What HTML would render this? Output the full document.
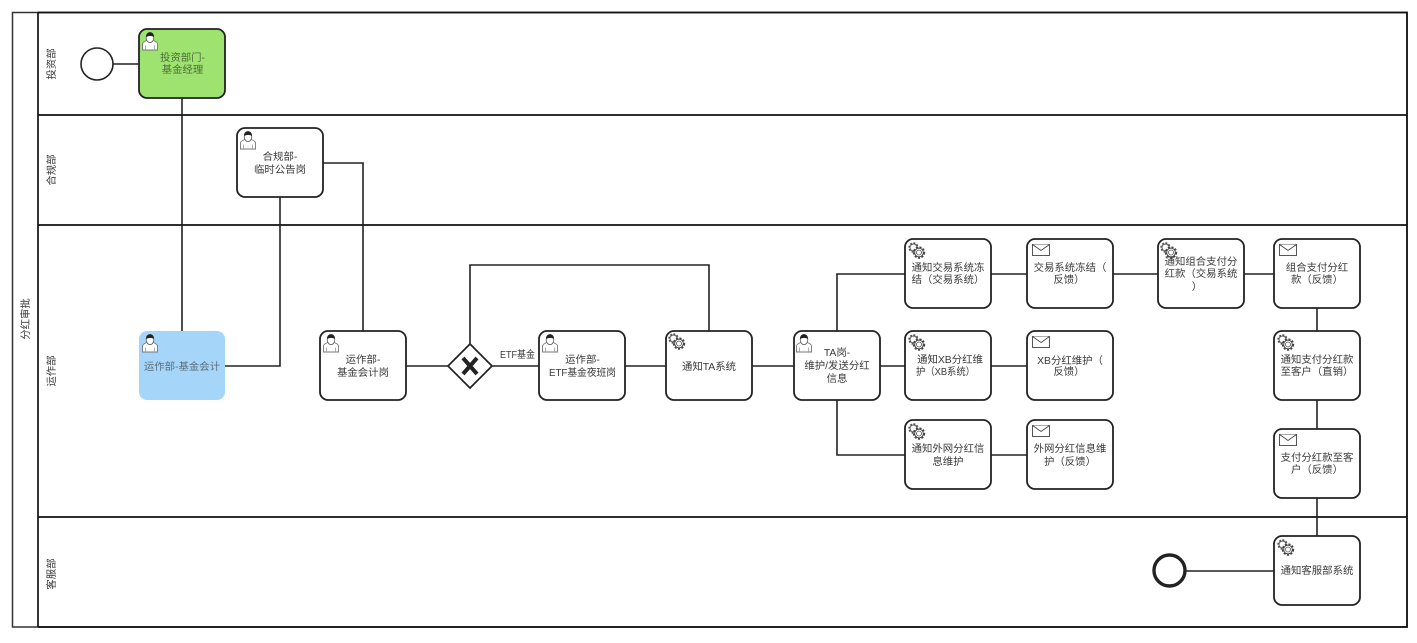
<!DOCTYPE html>
<html>
<head>
<meta charset="utf-8">
<style>
html,body{margin:0;padding:0;background:#fff;width:1417px;height:643px;overflow:hidden}
svg{display:block}
text{font-family:"Liberation Sans","Noto Sans CJK SC",sans-serif;font-size:10.4px;fill:#3a3a3a;text-anchor:middle}
.c{fill:none;stroke:#222;stroke-width:1.6}
.t{fill:#fff;stroke:#222;stroke-width:1.8}
</style>
</head>
<body>
<svg width="1417" height="643" viewBox="0 0 1417 643" xmlns="http://www.w3.org/2000/svg">
<defs>
  <g id="u">
    <path d="M.5 18V12C.5 10 3 9.500 5 8.300L11 8.300C13 9.500 15.500 10 15.500 12V18Z" fill="#fff" stroke="#777" stroke-width=".9"/>
    <path d="M3.500 18V13.500M12.500 18V13.500" stroke="#999" stroke-width=".8"/>
    <ellipse cx="8" cy="5.600" rx="3.800" ry="5" fill="#fff" stroke="#555" stroke-width=".8"/>
    <path d="M4.100 5.200C3.800 1.500 6 .3 8 .3S12.200 1.500 11.900 5.200C10.500 3.400 6 3.400 4.100 5.200Z" fill="#222"/>
  </g>
  <g id="g" fill="#fff">
    <circle cx="5.500" cy="5.500" r="4" stroke-width="2.400" stroke-dasharray="1.800 1.300" stroke="#555"/>
    <circle cx="5.500" cy="5.500" r="3.500" stroke-width=".9" stroke="#555"/>
    <circle cx="11" cy="10.500" r="5" stroke-width="2.400" stroke-dasharray="2 1.400" stroke="#444"/>
    <circle cx="11" cy="10.500" r="4.300" stroke-width=".9" stroke="#444"/>
    <circle cx="11" cy="10.500" r="2.500" stroke-width=".8" stroke="#555"/>
  </g>
  <g id="m" fill="#fff" stroke="#444" stroke-width=".9">
    <rect x=".5" y=".5" width="17" height="11"/>
    <path d="M.5 .5L9 6.500L17.500 .5"/>
  </g>
</defs>

<!-- pool -->
<rect x="12.500" y="12.500" width="1394.500" height="614.500" fill="#fff" stroke="#333" stroke-width="1.500"/>
<path d="M38 12V627M38 12.500H1407V627H38M38 115H1407M38 225H1407M38 517H1407" fill="none" stroke="#111" stroke-width="1.700"/>

<text transform="translate(29,319) rotate(-90)">分红审批</text>
<text transform="translate(55,64) rotate(-90)">投资部</text>
<text transform="translate(55,170) rotate(-90)">合规部</text>
<text transform="translate(55,371) rotate(-90)">运作部</text>
<text transform="translate(55,574) rotate(-90)">客服部</text>

<!-- connectors -->
<path class="c" d="M113 64H139M182 98V331M323 163H363V331M280 197V366H225M406 366H448M470 344V265H709V331M492 366H539M625 366H666M752 366H794M880 366H905M991 366H1027M837 331V274H905M837 400V455H905M991 274H1027M991 455H1027M1113 274H1158M1244 274H1274M1317 308V331M1317 400V429M1317 498V536M1274 571H1185"/>

<!-- events -->
<circle cx="97" cy="64" r="16" fill="#fff" stroke="#222" stroke-width="1.600"/>
<circle cx="1169.500" cy="570.500" r="15.500" fill="#fff" stroke="#222" stroke-width="3.400"/>

<!-- gateway -->
<path d="M470 344L492 366L470 388L448 366Z" fill="#fff" stroke="#222" stroke-width="1.700"/>
<path d="M463 358L477 374M477 358L463 374" stroke="#222" stroke-width="4" fill="none"/>
<rect x="499" y="348" width="37" height="14" fill="#fff"/>
<text x="517.500" y="358" textLength="35" lengthAdjust="spacingAndGlyphs">ETF基金</text>

<!-- tasks -->
<rect x="139" y="29" width="86" height="69" rx="8" fill="#9ee36f" stroke="#222" stroke-width="1.800"/>
<use href="#u" x="142" y="32"/>
<text x="182.500" y="61" style="fill:#4f6b3c">投资部门-</text>
<text x="182.500" y="73" style="fill:#4f6b3c">基金经理</text>

<rect class="t" x="237" y="128" width="86" height="69" rx="8"/>
<use href="#u" x="240" y="131"/>
<text x="280" y="160">合规部-</text>
<text x="280" y="173">临时公告岗</text>

<rect x="139" y="331" width="86" height="69" rx="8" fill="#a5d6f9"/>
<use href="#u" x="142" y="334"/>
<text x="182" y="370" style="fill:#5c6d7a">运作部-基金会计</text>

<rect class="t" x="320" y="331" width="86" height="69" rx="8"/>
<use href="#u" x="323" y="334"/>
<text x="363" y="363">运作部-</text>
<text x="363" y="376">基金会计岗</text>

<rect class="t" x="539" y="331" width="86" height="69" rx="8"/>
<use href="#u" x="542" y="334"/>
<text x="582.500" y="363">运作部-</text>
<text x="582.500" y="376" textLength="67" lengthAdjust="spacingAndGlyphs">ETF基金夜班岗</text>

<rect class="t" x="666" y="331" width="86" height="69" rx="8"/>
<use href="#g" x="668" y="333"/>
<text x="709" y="370">通知TA系统</text>

<rect class="t" x="794" y="331" width="86" height="69" rx="8"/>
<use href="#u" x="796" y="334"/>
<text x="837" y="356">TA岗-</text>
<text x="837" y="369">维护/发送分红</text>
<text x="837" y="382">信息</text>

<rect class="t" x="905" y="239" width="86" height="69" rx="8"/>
<use href="#g" x="908" y="242"/>
<text x="948" y="271">通知交易系统冻</text>
<text x="948" y="283">结（交易系统）</text>

<rect class="t" x="1027" y="239" width="86" height="69" rx="8"/>
<use href="#m" x="1032" y="244"/>
<text x="1070" y="271">交易系统冻结（</text>
<text x="1069" y="283">反馈）</text>

<rect class="t" x="1158" y="239" width="86" height="69" rx="8"/>
<use href="#g" x="1160" y="242"/>
<text x="1201" y="265">通知组合支付分</text>
<text x="1201" y="277">红款（交易系统</text>
<text x="1197" y="290">）</text>

<rect class="t" x="1274" y="239" width="86" height="69" rx="8"/>
<use href="#m" x="1279" y="244"/>
<text x="1317" y="271">组合支付分红</text>
<text x="1317" y="283">款（反馈）</text>

<rect class="t" x="905" y="331" width="86" height="69" rx="8"/>
<use href="#g" x="908" y="334"/>
<text x="950" y="363">通知XB分红维</text>
<text x="945.500" y="375" textLength="59" lengthAdjust="spacingAndGlyphs">护（XB系统）</text>

<rect class="t" x="1027" y="331" width="86" height="69" rx="8"/>
<use href="#m" x="1032" y="336"/>
<text x="1070" y="364">XB分红维护（</text>
<text x="1069" y="375">反馈）</text>

<rect class="t" x="1274" y="331" width="86" height="69" rx="8"/>
<use href="#g" x="1277" y="334"/>
<text x="1317" y="363">通知支付分红款</text>
<text x="1317" y="375">至客户（直销）</text>

<rect class="t" x="905" y="420" width="86" height="69" rx="8"/>
<use href="#g" x="908" y="423"/>
<text x="948" y="452">通知外网分红信</text>
<text x="948" y="465">息维护</text>

<rect class="t" x="1027" y="420" width="86" height="69" rx="8"/>
<use href="#m" x="1032" y="425"/>
<text x="1070" y="452">外网分红信息维</text>
<text x="1070" y="465">护（反馈）</text>

<rect class="t" x="1274" y="429" width="86" height="69" rx="8"/>
<use href="#m" x="1279" y="434"/>
<text x="1317" y="461">支付分红款至客</text>
<text x="1317" y="473">户（反馈）</text>

<rect class="t" x="1274" y="536" width="86" height="69" rx="8"/>
<use href="#g" x="1277" y="539"/>
<text x="1317" y="574">通知客服部系统</text>
</svg>
</body>
</html>
